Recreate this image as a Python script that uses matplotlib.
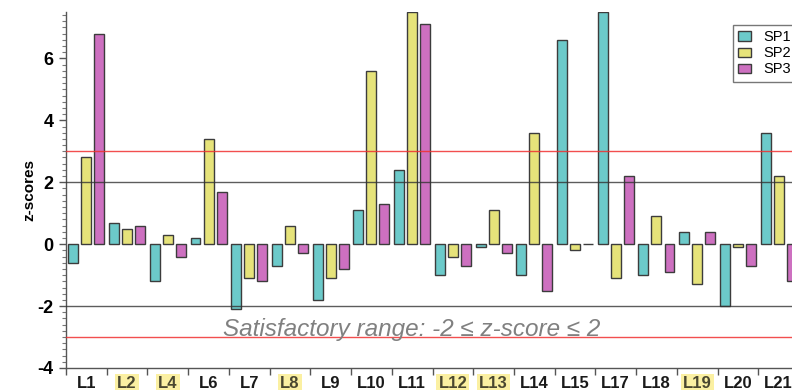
import numpy as np
import matplotlib
matplotlib.use('Agg')
import matplotlib.pyplot as plt
from matplotlib.ticker import MultipleLocator

plt.rcParams['font.family'] = ['Liberation Sans', 'DejaVu Sans']
plt.rcParams['axes.unicode_minus'] = False

# labs and z-scores for the three samples
labs = ['L1', 'L2', 'L4', 'L6', 'L7', 'L8', 'L9', 'L10', 'L11', 'L12', 'L13',
        'L14', 'L15', 'L17', 'L18', 'L19', 'L20', 'L21']
sp1 = [-0.6, 0.7, -1.2, 0.2, -2.1, -0.7, -1.8, 1.1, 2.4, -1.0, -0.1,
       -1.0, 6.6, 7.5, -1.0, 0.4, -2.0, 3.6]
sp2 = [2.8, 0.5, 0.3, 3.4, -1.1, 0.6, -1.1, 5.6, 7.5, -0.4, 1.1,
       3.6, -0.2, -1.1, 0.9, -1.3, -0.1, 2.2]
sp3 = [6.8, 0.6, -0.4, 1.7, -1.2, -0.3, -0.8, 1.3, 7.1, -0.7, -0.3,
       -1.5, 0.0, 2.2, -0.9, 0.4, -0.7, -1.2]
highlighted = ['L2', 'L4', 'L8', 'L12', 'L13', 'L19']

colors = ['#6ccaca', '#e6e37a', '#cd70c0']

fig = plt.figure(figsize=(7.92, 3.90), dpi=100)
# axes runs past the right edge of the figure, so the last group is cut off
ax = fig.add_axes([66/792, 22/390, 733/792, 356/390])

x = np.arange(len(labs)) + 0.5
w = 0.245
off = 0.32
for vals, dx, c, name in zip([sp1, sp2, sp3], [-off, 0, off], colors, ['SP1', 'SP2', 'SP3']):
    ax.bar(x + dx, vals, width=w, color=c, edgecolor='#3c3c3c', linewidth=1.0,
           label=name, zorder=2)

for y in (2, -2):
    ax.axhline(y, color='#333333', lw=1.0, alpha=0.8, zorder=3)
for y in (3, -3):
    ax.axhline(y, color='#f03030', lw=1.0, alpha=0.85, zorder=3)

ax.text(3.86, -2.97, 'Satisfactory range: -2 \u2264 z-score \u2264 2', fontsize=17.5,
        style='italic', color='#808080', va='baseline', ha='left', zorder=4)

ax.set_xlim(0, len(labs))
ax.set_ylim(-4, 7.5)

ax.spines['top'].set_visible(False)
ax.spines['right'].set_visible(False)
for s in ('left', 'bottom'):
    ax.spines[s].set_color('#555555')
    ax.spines[s].set_linewidth(1.0)

ax.yaxis.set_major_locator(MultipleLocator(2))
ax.yaxis.set_minor_locator(MultipleLocator(0.2))
ax.tick_params(axis='y', which='major', length=5, width=1, color='#555555',
               labelsize=13, pad=4)
ax.tick_params(axis='y', which='minor', length=3, width=0.8, color='#777777')
for t in ax.get_yticklabels():
    t.set_fontweight('bold')

# ticks between groups, labels at group centres
ax.set_xticks(np.arange(len(labs) + 1))
ax.set_xticklabels([])
ax.set_xticks(x, minor=True)
ax.set_xticklabels(labs, minor=True)
ax.tick_params(axis='x', which='major', length=5, width=1, color='#555555')
ax.tick_params(axis='x', which='minor', length=0, labelsize=12, pad=6)
for t in ax.get_xticklabels(minor=True):
    t.set_fontweight('bold')
    if t.get_text() in highlighted:
        t.set_color('#4a4730')
        t.set_bbox(dict(facecolor='#fbf0a2', edgecolor='none', pad=1.5))
    else:
        t.set_color('#1a1a1a')

ax.set_ylabel('z-scores', fontsize=11, fontweight='bold', labelpad=1)

leg = fig.legend(loc='upper left', bbox_to_anchor=(733/792, 1 - 25/390),
                 bbox_transform=fig.transFigure, borderaxespad=0,
                 fontsize=10.5, frameon=True, fancybox=False,
                 handlelength=0.9, handleheight=0.6, handletextpad=0.8,
                 borderpad=0.35, labelspacing=0.15)
leg.get_frame().set_edgecolor('#555555')
leg.get_frame().set_linewidth(1.0)

plt.savefig('out.png', dpi=100)
